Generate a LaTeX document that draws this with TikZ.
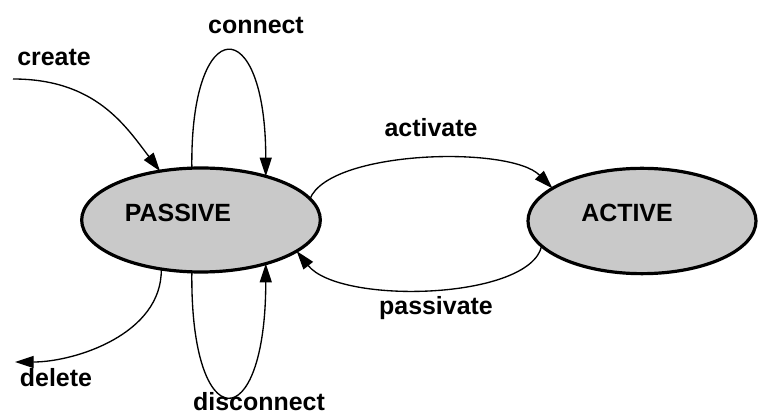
\documentclass[tikz,border=0pt]{standalone}
\usepackage{fontspec}
\setmainfont{Liberation Sans}
\usetikzlibrary{shapes.geometric,arrows.meta}

\begin{document}
\begin{tikzpicture}[x=0.75pt,y=-0.75pt,
  state/.style={ellipse,draw,line width=2.4pt,fill=black!21,inner sep=0pt,outer sep=0pt},
  lbl/.style={font=\bfseries\fontsize{18.7}{22}\selectfont,inner sep=0pt},
  trans/.style={line width=1pt,-{Triangle[length=14pt,width=9pt]}}]
  \useasboundingbox (0,0) rectangle (758,416);
  % states
  \node[state,minimum width=179pt,minimum height=78pt] (passive) at (201,220) {};
  \node[state,minimum width=171pt,minimum height=79pt] (active) at (642,221) {};
  \node[lbl] (passivetxt) at (178,213) {PASSIVE};
  \node[lbl] (activetxt) at (627,213) {ACTIVE};
  % free ends
  \coordinate (creatept) at (13,79);
  \coordinate (deletept) at (15,362);
  % transitions
  \draw[trans] (creatept) .. controls +(82,0) and +(-35,-46) .. (passive.130);
  \draw[trans] (passive.100) .. controls +(-2,-156) and +(0,-166) .. (passive.34);
  \draw[trans] (passive.260) .. controls +(-2,167) and +(0,175) .. (passive.-34);
  \draw[trans] (passive.231) .. controls +(1,65) and +(60,0) .. (deletept);
  \draw[trans] (passive.11) .. controls +(20,-49) and +(-42,-43) .. (active.160);
  \draw[trans] (active.194) .. controls +(-12,54) and +(43,54) .. (passive.-18);
  % labels
  \node[lbl] (create) at (54,57) {create};
  \node[lbl] (connect) at (256,25) {connect};
  \node[lbl] (activate) at (431,128) {activate};
  \node[lbl] (passivate) at (436,308) {passivate};
  \node[lbl] (delete) at (56,378) {delete};
  \node[lbl] (disconnect) at (259,402) {disconnect};
\end{tikzpicture}
\end{document}
